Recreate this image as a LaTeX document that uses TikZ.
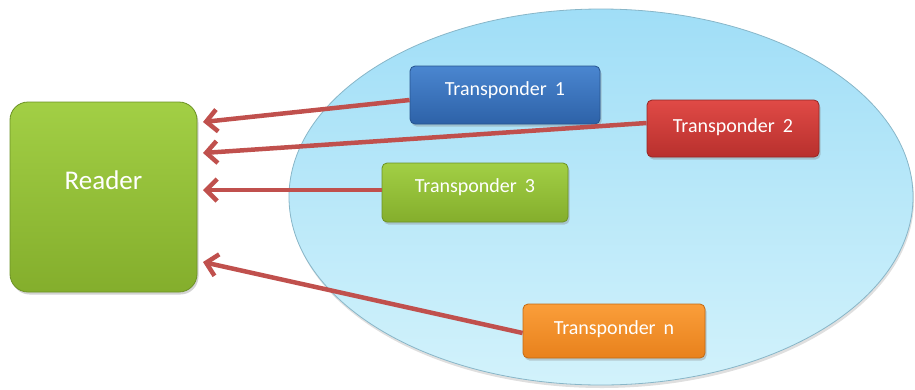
\documentclass[tikz,border=0pt]{standalone}
\usepackage{fontspec}
\setmainfont{Carlito}
\usetikzlibrary{arrows.meta,shadows}
\definecolor{elltop}{HTML}{A0DEF7}
\definecolor{ellmid}{HTML}{B4E7F9}
\definecolor{ellbot}{HTML}{D2F2FB}
\definecolor{elldraw}{HTML}{88B6C8}
\definecolor{grtop}{HTML}{A2CF45}
\definecolor{grbot}{HTML}{84AE2C}
\definecolor{grdraw}{HTML}{6C9225}
\definecolor{bltop}{HTML}{4A86D0}
\definecolor{blbot}{HTML}{2D62A8}
\definecolor{bldraw}{HTML}{26548F}
\definecolor{rdtop}{HTML}{E04A46}
\definecolor{rdbot}{HTML}{B8302D}
\definecolor{rddraw}{HTML}{962725}
\definecolor{ortop}{HTML}{FA9E3A}
\definecolor{orbot}{HTML}{E8811C}
\definecolor{ordraw}{HTML}{C26A14}
\definecolor{arrowred}{HTML}{C0504D}
\tikzset{
  box/.style={rounded corners=5pt, line width=0.8pt, text=white, inner sep=0pt,
    drop shadow={shadow xshift=1.5pt, shadow yshift=-2.5pt, opacity=0.35}},
  tbox/.style={box, font=\fontsize{20}{22}\selectfont},
  greenbox/.style={top color=grtop, bottom color=grbot, draw=grdraw},
  bluebox/.style={top color=bltop, bottom color=blbot, draw=bldraw},
  redbox/.style={top color=rdtop, bottom color=rdbot, draw=rddraw},
  orangebox/.style={top color=ortop, bottom color=orbot, draw=ordraw},
  link/.style={draw=arrowred, line width=4.5pt,
    -{Straight Barb[length=11pt, width=22pt, line width=4.5pt]}},
}
\newcommand{\tsp}{\hspace{0.4em}}
\newcommand{\lift}[2]{\raisebox{#1}[0pt][0pt]{#2}}
\begin{document}
\begin{tikzpicture}[x=1pt,y=-1pt]
\useasboundingbox (0,0) rectangle (915,389);
% field ellipse
\path[top color=elltop, middle color=ellmid, bottom color=ellbot, draw=elldraw, line width=0.8pt,
  drop shadow={shadow xshift=1pt, shadow yshift=-3pt, opacity=0.25}]
  (601,197) ellipse [x radius=312pt, y radius=188pt];
% reader
\node[box, greenbox, rounded corners=18pt, minimum width=187pt, minimum height=190pt,
  font=\fontsize{27}{29}\selectfont] (r) at (103.5,197) {\lift{8pt}{Reader}};
% transponders
\node[tbox, bluebox, minimum width=190pt, minimum height=58pt] (t1) at (505,95)
  {\lift{0pt}{Transponder\tsp 1}};
\node[tbox, redbox, minimum width=172pt, minimum height=57pt] (t2) at (733,128.5)
  {\lift{-3.5pt}{Transponder\tsp 2}};
\node[tbox, greenbox, minimum width=186pt, minimum height=59pt] (t3) at (475,192.5)
  {\lift{0pt}{Transponder\tsp 3}};
\node[tbox, orangebox, minimum width=182pt, minimum height=54pt] (tn) at (614,331)
  {\lift{-3pt}{Transponder\tsp n}};
% arrow targets on the reader
\coordinate (a1) at (203,122);
\coordinate (a2) at (203,153);
\coordinate (a3) at (203,190);
\coordinate (a4) at (203,262);
\draw[link] (t1.west |- 0,100) -- (a1);
\draw[link] (t2.west |- 0,123) -- (a2);
\draw[link] (t3.west |- 0,190) -- (a3);
\draw[link] (tn.west |- 0,333) -- (a4);
\end{tikzpicture}
\end{document}
